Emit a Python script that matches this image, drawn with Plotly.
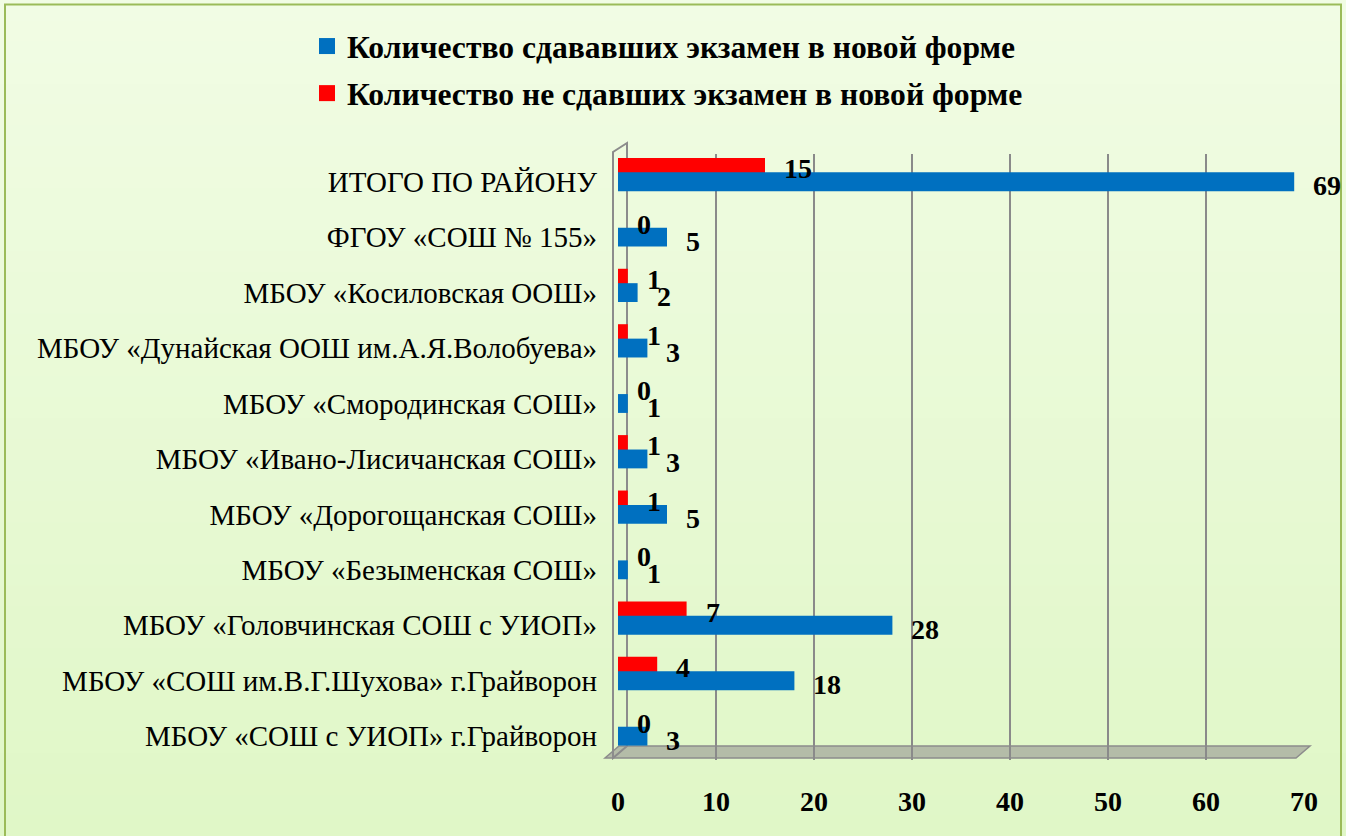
import plotly.graph_objects as go

categories = [
    "МБОУ «СОШ с УИОП» г.Грайворон",
    "МБОУ «СОШ им.В.Г.Шухова» г.Грайворон",
    "МБОУ «Головчинская СОШ с УИОП»",
    "МБОУ «Безыменская СОШ»",
    "МБОУ «Дорогощанская СОШ»",
    "МБОУ «Ивано-Лисичанская СОШ»",
    "МБОУ «Смородинская СОШ»",
    "МБОУ «Дунайская ООШ им.А.Я.Волобуева»",
    "МБОУ «Косиловская ООШ»",
    "ФГОУ «СОШ № 155»",
    "ИТОГО ПО РАЙОНУ",
]
took_exam = [3, 18, 28, 1, 5, 3, 1, 3, 2, 5, 69]
failed_exam = [0, 4, 7, 0, 1, 1, 0, 1, 1, 0, 15]
x_ticks = [0, 10, 20, 30, 40, 50, 60, 70]

name_took = "Количество сдававших экзамен в новой форме"
name_failed = "Количество не сдавших экзамен в новой форме"

BLUE = "#0070C0"
RED = "#FF0000"
SERIF = "Liberation Serif, Times New Roman, serif"

W, H = 1346, 836
ML, MR, MT, MB = 618, 42, 154, 76
PW, PH = W - ML - MR, H - MT - MB


def px_x(px):
    return (px - ML) / PW


def px_y(py):
    return (H - MB - py) / PH


fig = go.Figure()

fig.add_trace(go.Bar(
    y=categories, x=failed_exam, orientation="h", name=name_failed,
    marker=dict(color=RED, line=dict(width=0)),
    offset=0.10, width=0.33, showlegend=False,
    hoverinfo="x+y",
))
fig.add_trace(go.Bar(
    y=categories, x=took_exam, orientation="h", name=name_took,
    marker=dict(color=BLUE, line=dict(width=0)),
    offset=-0.17, width=0.34, showlegend=False,
    hoverinfo="x+y",
))
# legend entries with larger square swatches
fig.add_trace(go.Scatter(
    x=[None], y=[None], mode="markers", name=name_took,
    marker=dict(symbol="square", size=16, color=BLUE),
    legendgroup="a", legendrank=1,
))
fig.add_trace(go.Scatter(
    x=[None], y=[None], mode="markers", name=name_failed,
    marker=dict(symbol="square", size=16, color=RED),
    legendgroup="b", legendrank=2,
))

annotations = []
for cat, v in zip(categories, took_exam):
    annotations.append(dict(
        x=v, y=cat, xref="x", yref="y", text=str(v), showarrow=False,
        xanchor="left", yanchor="middle", xshift=17, yshift=-4,
        font=dict(family=SERIF, size=28, color="black", weight="bold"),
    ))
for cat, v in zip(categories, failed_exam):
    annotations.append(dict(
        x=v, y=cat, xref="x", yref="y", text=str(v), showarrow=False,
        xanchor="left", yanchor="middle", xshift=17, yshift=13,
        font=dict(family=SERIF, size=28, color="black", weight="bold"),
    ))

# background gradient, border and 3D-like floor/wall
shapes = []
top_c = (241, 252, 228)
bot_c = (224, 247, 199)
n = 40
for k in range(n):
    t = k / (n - 1)
    c = tuple(round(top_c[j] + (bot_c[j] - top_c[j]) * t) for j in range(3))
    shapes.append(dict(
        type="rect", xref="paper", yref="paper", layer="below",
        x0=px_x(0), x1=px_x(W), y0=px_y(H * k / n), y1=px_y(H * (k + 1) / n + 1),
        fillcolor="rgb(%d,%d,%d)" % c, line=dict(width=0),
    ))
# floor
shapes.append(dict(
    type="path", xref="paper", yref="paper", layer="below",
    path="M %f,%f L %f,%f L %f,%f L %f,%f Z" % (
        px_x(605), px_y(758), px_x(1296), px_y(758),
        px_x(1310), px_y(746), px_x(619), px_y(746)),
    fillcolor="#B4BCA8", line=dict(color="#8C8C8C", width=1.5),
))
# left wall
shapes.append(dict(
    type="path", xref="paper", yref="paper", layer="below",
    path="M %f,%f L %f,%f L %f,%f L %f,%f Z" % (
        px_x(613), px_y(758), px_x(613), px_y(152),
        px_x(627), px_y(143), px_x(627), px_y(746)),
    fillcolor="rgba(0,0,0,0)", line=dict(color="#8C8C8C", width=2),
))
# outer border
shapes.append(dict(
    type="rect", xref="paper", yref="paper", layer="above",
    x0=px_x(5), x1=px_x(1341), y0=px_y(H + 5), y1=px_y(4.5),
    fillcolor="rgba(0,0,0,0)", line=dict(color="#9BBB59", width=2),
))

fig.update_layout(
    width=W, height=H,
    margin=dict(l=ML, r=MR, t=MT, b=MB, autoexpand=False),
    paper_bgcolor="#EAF9D8",
    plot_bgcolor="rgba(0,0,0,0)",
    barmode="overlay",
    font=dict(family=SERIF, color="black"),
    showlegend=True,
    legend=dict(
        xref="container", yref="container", x=307 / W, y=1 - 19 / H,
        xanchor="left", yanchor="top", orientation="v",
        traceorder="grouped", tracegroupgap=3,
        itemwidth=30,
        font=dict(family=SERIF, size=31.6, color="black", weight="bold"),
        bgcolor="rgba(0,0,0,0)",
    ),
    xaxis=dict(
        range=[0, 70], tickvals=x_ticks, ticktext=[str(t) for t in x_ticks],
        showgrid=True, gridcolor="#8A8A8A", gridwidth=2,
        zeroline=False, showline=False, automargin=False,
        ticks="", ticklabelstandoff=22,
        tickfont=dict(family=SERIF, size=28, color="black", weight="bold"),
        fixedrange=True,
    ),
    yaxis=dict(
        type="category", categoryorder="array", categoryarray=categories,
        range=[-0.43, 10.5], showgrid=False, zeroline=False, showline=False,
        automargin=False,
        ticks="", ticklabelstandoff=20,
        tickfont=dict(family=SERIF, size=29, color="black"),
        fixedrange=True,
    ),
    shapes=shapes,
    annotations=annotations,
)

fig.write_html(
    "out.html",
    config={"displayModeBar": False},
    post_script="document.body.style.margin='0';document.body.style.padding='0';",
)
